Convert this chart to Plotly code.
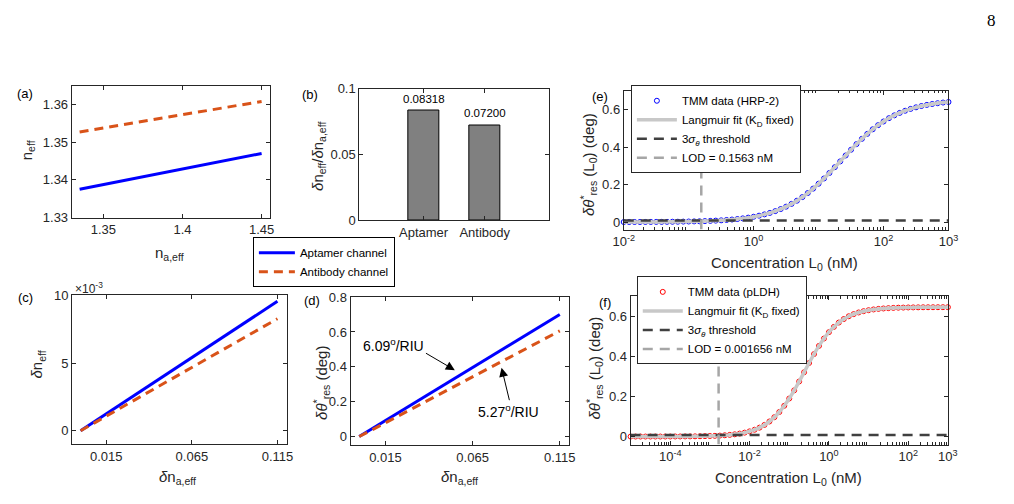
import plotly.graph_objects as go

W, H = 1014, 504

# ---------------- data ----------------
# (a) effective index vs analyte-layer index
na_eff = [1.335, 1.45]
neff_aptamer = [1.3375, 1.3470]
neff_antibody = [1.3527, 1.3608]

# (b) sensitivity bars
bar_cats = ["Aptamer", "Antibody"]
bar_vals = [0.08318, 0.07200]

# (c) delta n_eff vs delta n_a,eff
dna = [0.0, 0.115]
dneff_aptamer = [0.0, 0.00957]
dneff_antibody = [0.0, 0.00828]

# (d) delta theta vs delta n_a,eff
dtheta_aptamer = [0.0, 0.700]
dtheta_antibody = [0.0, 0.606]

# (e) HRP-2 TMM data (concentration nM, response deg)
conc_e = [0.01, 0.01212, 0.01468, 0.01778, 0.02154, 0.0261, 0.03162, 0.03831, 0.04642, 0.05623, 0.06813, 0.08254,
          0.1, 0.1212, 0.1468, 0.1778, 0.2154, 0.261, 0.3162, 0.3831, 0.4642, 0.5623, 0.6813, 0.8254,
          1.0, 1.212, 1.468, 1.778, 2.154, 2.61, 3.162, 3.831, 4.642, 5.623, 6.813, 8.254,
          10.0, 12.12, 14.68, 17.78, 21.54, 26.1, 31.62, 38.31, 46.42, 56.23, 68.13, 82.54,
          100.0, 121.2, 146.8, 177.8, 215.4, 261.0, 316.2, 383.1, 464.2, 562.3, 681.3, 825.4, 1000.0]
theta_e = [0.0003, 0.0004, 0.0004, 0.0005, 0.0006, 0.0008, 0.0009, 0.0011, 0.0014, 0.0017, 0.0020, 0.0025,
           0.0030, 0.0036, 0.0043, 0.0053, 0.0064, 0.0077, 0.0093, 0.0112, 0.0135, 0.0163, 0.0197, 0.0237,
           0.0285, 0.0342, 0.0410, 0.0490, 0.0584, 0.0695, 0.0823, 0.0971, 0.1141, 0.1333, 0.1549, 0.1787,
           0.2047, 0.2327, 0.2621, 0.2928, 0.3240, 0.3554, 0.3863, 0.4161, 0.4444, 0.4708, 0.4951, 0.5172,
           0.5369, 0.5544, 0.5696, 0.5829, 0.5943, 0.6041, 0.6124, 0.6194, 0.6254, 0.6303, 0.6345, 0.6380, 0.6409]
threshold_e = 0.008
lod_e = 0.1563

# (f) pLDH TMM data
conc_f = [1e-5, 1.334e-5, 1.778e-5, 2.371e-5, 3.162e-5, 4.217e-5, 5.623e-5, 7.499e-5,
          1e-4, 1.334e-4, 1.778e-4, 2.371e-4, 3.162e-4, 4.217e-4, 5.623e-4, 7.499e-4,
          1e-3, 1.334e-3, 1.778e-3, 2.371e-3, 3.162e-3, 4.217e-3, 5.623e-3, 7.499e-3,
          0.01, 0.01334, 0.01778, 0.02371, 0.03162, 0.04217, 0.05623, 0.07499,
          0.1, 0.1334, 0.1778, 0.2371, 0.3162, 0.4217, 0.5623, 0.7499,
          1.0, 1.334, 1.778, 2.371, 3.162, 4.217, 5.623, 7.499,
          10.0, 13.34, 17.78, 23.71, 31.62, 42.17, 56.23, 74.99,
          100.0, 133.4, 177.8, 237.1, 316.2, 421.7, 562.3, 749.9, 1000.0]
theta_f = [0.00003, 0.00004, 0.00005, 0.00006, 0.00008, 0.00011, 0.00015, 0.0002,
           0.00027, 0.00036, 0.00048, 0.00064, 0.00085, 0.00113, 0.00151, 0.00201,
           0.00268, 0.00357, 0.00474, 0.00631, 0.00839, 0.01114, 0.01477, 0.01954,
           0.0258, 0.0340, 0.0445, 0.0580, 0.0751, 0.0964, 0.1224, 0.1536,
           0.1897, 0.2304, 0.2745, 0.3205, 0.3667, 0.4111, 0.4521, 0.4886,
           0.5202, 0.5467, 0.5683, 0.5857, 0.5995, 0.6103, 0.6186, 0.6250,
           0.6299, 0.6336, 0.6364, 0.6385, 0.6401, 0.6414, 0.6423, 0.6429,
           0.6435, 0.6438, 0.6441, 0.6444, 0.6445, 0.6446, 0.6447, 0.6448, 0.6449]
threshold_f = 0.008
lod_f = 0.001656

# ---------------- styling helpers ----------------
FONT = "Liberation Sans, Arial, Helvetica, sans-serif"
AX = "#262626"
BLUE = "#0000FF"
ORANGE = "#D95319"


def px(x, y):
    return x / W, 1 - y / H


def dom(x0, x1, y0, y1):
    # pixel box -> paper domains
    return [x0 / W, x1 / W], [1 - y1 / H, 1 - y0 / H]


def axis(domain, rng, tickvals, ticktext=None, anchor=None, typ="linear", minor_vals=None):
    d = dict(domain=domain, range=rng, type=typ, tickmode="array", tickvals=tickvals,
             ticks="inside", ticklen=4, tickwidth=1, tickcolor=AX,
             showline=True, linecolor=AX, linewidth=1, mirror="ticks",
             showgrid=False, zeroline=False, anchor=anchor,
             tickfont=dict(family=FONT, size=13, color=AX))
    if ticktext is not None:
        d["ticktext"] = ticktext
    if minor_vals is not None:
        d["minor"] = dict(tickmode="array", tickvals=minor_vals, ticks="inside",
                          ticklen=2.5, tickcolor=AX, tickwidth=1, showgrid=False)
    return d


fig = go.Figure()

# (a)
fig.add_trace(go.Scatter(x=na_eff, y=neff_aptamer, mode="lines", name="Aptamer channel",
                         line=dict(color=BLUE, width=3), xaxis="x", yaxis="y", legend="legend"))
fig.add_trace(go.Scatter(x=na_eff, y=neff_antibody, mode="lines", name="Antibody channel",
                         line=dict(color=ORANGE, width=3, dash="9px,6px"), xaxis="x", yaxis="y",
                         legend="legend"))

# (b)
fig.add_trace(go.Bar(x=[1, 2], y=bar_vals, width=0.5, marker=dict(color="#808080",
                     line=dict(color="#000000", width=1)), showlegend=False,
                     xaxis="x2", yaxis="y2"))

# (c)
fig.add_trace(go.Scatter(x=dna, y=dneff_aptamer, mode="lines", line=dict(color=BLUE, width=3),
                         showlegend=False, xaxis="x3", yaxis="y3"))
fig.add_trace(go.Scatter(x=dna, y=dneff_antibody, mode="lines",
                         line=dict(color=ORANGE, width=3, dash="9px,6px"),
                         showlegend=False, xaxis="x3", yaxis="y3"))

# (d)
fig.add_trace(go.Scatter(x=dna, y=dtheta_aptamer, mode="lines", line=dict(color=BLUE, width=3),
                         showlegend=False, xaxis="x4", yaxis="y4"))
fig.add_trace(go.Scatter(x=dna, y=dtheta_antibody, mode="lines",
                         line=dict(color=ORANGE, width=3, dash="9px,6px"),
                         showlegend=False, xaxis="x4", yaxis="y4"))

# (e)
fig.add_trace(go.Scatter(x=conc_e, y=theta_e, mode="markers", name="TMM data (HRP-2)",
                         marker=dict(symbol="circle-open", color=BLUE, size=5, line=dict(width=1)),
                         cliponaxis=False, xaxis="x5", yaxis="y5", legend="legend2"))
fig.add_trace(go.Scatter(x=conc_e, y=theta_e, mode="lines", name="Langmuir fit (K<sub>D</sub> fixed)",
                         line=dict(color="#C8C8C8", width=3.5, shape="spline"),
                         xaxis="x5", yaxis="y5", legend="legend2"))
fig.add_trace(go.Scatter(x=[conc_e[0], conc_e[-1]], y=[threshold_e, threshold_e], mode="lines",
                         name="3<i>σ</i><sub><i>θ</i></sub> threshold",
                         line=dict(color="#404040", width=2.5, dash="10px,7px"),
                         xaxis="x5", yaxis="y5", legend="legend2"))
fig.add_trace(go.Scatter(x=[lod_e, lod_e], y=[-0.04, 0.7], mode="lines",
                         name="LOD = %.4f nM" % lod_e,
                         line=dict(color="#A6A6A6", width=2.5, dash="10px,7px"),
                         xaxis="x5", yaxis="y5", legend="legend2"))

# (f)
fig.add_trace(go.Scatter(x=conc_f, y=theta_f, mode="markers", name="TMM data (pLDH)",
                         marker=dict(symbol="circle-open", color="#FF0000", size=5, line=dict(width=1)),
                         cliponaxis=False, xaxis="x6", yaxis="y6", legend="legend3"))
fig.add_trace(go.Scatter(x=conc_f, y=theta_f, mode="lines", name="Langmuir fit (K<sub>D</sub> fixed)",
                         line=dict(color="#C8C8C8", width=3.5, shape="spline"),
                         xaxis="x6", yaxis="y6", legend="legend3"))
fig.add_trace(go.Scatter(x=[conc_f[0], conc_f[-1]], y=[threshold_f, threshold_f], mode="lines",
                         name="3<i>σ</i><sub><i>θ</i></sub> threshold",
                         line=dict(color="#404040", width=2.5, dash="10px,7px"),
                         xaxis="x6", yaxis="y6", legend="legend3"))
fig.add_trace(go.Scatter(x=[lod_f, lod_f], y=[-0.04, 0.7], mode="lines",
                         name="LOD = %.6f nM" % lod_f,
                         line=dict(color="#A6A6A6", width=2.5, dash="10px,7px"),
                         xaxis="x6", yaxis="y6", legend="legend3"))

# ---------------- axes ----------------
minor_e = [k * 10.0 ** d for d in range(-2, 3) for k in range(2, 10)]
minor_f = [k * 10.0 ** d for d in range(-5, 3) for k in range(2, 10)]

xa, ya = dom(62, 264, 81, 217)
xb, yb = dom(355.7, 549.3, 84, 220)
xc, yc = dom(62.3, 281.7, 297.3, 450.7)
xd, yd = dom(346.7, 569.3, 299, 451.7)
xe, ye = dom(625.7, 957.3, 86.5, 229.4)
xf, yf = dom(632.7, 956.7, 298, 451)

fig.update_layout(
    xaxis=axis(xa, [1.33, 1.455], [1.35, 1.4, 1.45], ["1.35", "1.4", "1.45"], anchor="y"),
    yaxis=axis(ya, [1.33, 1.365], [1.33, 1.34, 1.35, 1.36], ["1.33", "1.34", "1.35", "1.36"], anchor="x"),
    xaxis2=axis(xb, [-0.05, 3.05], [1, 2], bar_cats, anchor="y2"),
    yaxis2=axis(yb, [0, 0.1], [0, 0.05, 0.1], ["0", "0.05", "0.1"], anchor="x2"),
    xaxis3=axis(xc, [-0.005, 0.1205], [0.015, 0.065, 0.115], ["0.015", "0.065", "0.115"], anchor="y3"),
    yaxis3=axis(yc, [-0.001, 0.010], [0, 0.005, 0.01], ["0", "5", "10"], anchor="x3"),
    xaxis4=axis(xd, [-0.005, 0.12], [0.015, 0.065, 0.115], ["0.015", "0.065", "0.115"], anchor="y4"),
    yaxis4=axis(yd, [-0.05, 0.8], [0, 0.2, 0.4, 0.6, 0.8], ["0", "0.2", "0.4", "0.6", "0.8"], anchor="x4"),
    xaxis5=axis(xe, [-2, 3], [0.01, 1, 100, 1000],
                ["10<sup>-2</sup>", "10<sup>0</sup>", "10<sup>2</sup>", "10<sup>3</sup>"],
                anchor="y5", typ="log", minor_vals=minor_e),
    yaxis5=axis(ye, [-0.04, 0.7], [0, 0.2, 0.4, 0.6], ["0", "0.2", "0.4", "0.6"], anchor="x5"),
    xaxis6=axis(xf, [-5, 3], [1e-4, 1e-2, 1, 100, 1000],
                ["10<sup>-4</sup>", "10<sup>-2</sup>", "10<sup>0</sup>", "10<sup>2</sup>", "10<sup>3</sup>"],
                anchor="y6", typ="log", minor_vals=minor_f),
    yaxis6=axis(yf, [-0.04, 0.7], [0, 0.2, 0.4, 0.6], ["0", "0.2", "0.4", "0.6"], anchor="x6"),
)

# ---------------- legends ----------------
def legend(x, yc, border, iw):
    lx, ly = px(x, yc)
    return dict(x=lx, y=ly, xanchor="left", yanchor="middle", xref="paper", yref="paper",
                bgcolor="white", bordercolor=border, borderwidth=1,
                font=dict(family=FONT, size=11.5, color="#000000"),
                tracegroupgap=0, itemwidth=iw)

fig.update_layout(
    legend=legend(247, 263, "#000000", 36),
    legend2=legend(633, 126, AX, 40),
    legend3=legend(639, 323, AX, 40),
)

# ---------------- annotations ----------------
ann = []


def text(x, y, s, size=13, angle=0, xanchor="center", yanchor="middle", family=FONT, color=AX):
    lx, ly = px(x, y)
    ann.append(dict(x=lx, y=ly, xref="paper", yref="paper", text=s, showarrow=False,
                    textangle=angle, xanchor=xanchor, yanchor=yanchor,
                    font=dict(family=family, size=size, color=color)))


# panel labels
for lab, (x, y) in zip(["(a)", "(b)", "(c)", "(d)", "(e)", "(f)"],
                       [(14, 89), (305, 90), (15, 299), (307, 303), (601, 92), (607, 305)]):
    text(x, y, lab, size=13, color="#000000")

# axis titles
text(17, 148, "n<sub>eff</sub>", 15, -90)
text(162, 254, "n<sub>a,eff</sub>", 15)
text(314, 154, "<i>δ</i>n<sub>eff</sub>/<i>δ</i>n<sub>a,eff</sub>", 15, -90)
text(27, 368, "<i>δ</i>n<sub>eff</sub>", 15, -90)
text(170, 485, "<i>δ</i>n<sub>a,eff</sub>", 15)
text(317, 387, "<i>δθ</i><sup>*</sup><sub>res</sub> (deg)", 15, -90)
text(458, 485, "<i>δ</i>n<sub>a,eff</sub>", 15)
text(589, 162, "<i>δθ</i><sup>*</sup><sub>res</sub> (L<sub>0</sub>) (deg)", 15, -90)
text(790, 264, "Concentration L<sub>0</sub> (nM)", 15)
text(596, 372, "<i>δθ</i><sup>*</sup><sub>res</sub> (L<sub>0</sub>) (deg)", 15, -90)
text(794, 486, "Concentration L<sub>0</sub> (nM)", 15)

# exponent label for (c)
text(63, 290, "×10<sup>-3</sup>", 12, xanchor="left")

# page number
text(1001, 14, "8", 17, family="Liberation Serif", color="#000000")

# bar value labels
for i, v in enumerate(bar_vals):
    ann.append(dict(x=i + 1, y=v, xref="x2", yref="y2", text="%.5f" % v, showarrow=False,
                    yanchor="bottom", yshift=4, font=dict(family=FONT, size=11.5, color="#000000")))

# (d) slope annotations with arrows
ann.append(dict(x=0.0196, y=0.527, xref="x4", yref="y4", text="6.09<sup>o</sup>/RIU",
                showarrow=False, font=dict(family=FONT, size=14, color="#000000")))
ann.append(dict(x=0.0548, y=0.381, ax=0.0374, ay=0.483, xref="x4", yref="y4", axref="x4", ayref="y4",
                text="", showarrow=True, arrowhead=2, arrowsize=1.8, arrowwidth=1, arrowcolor="#000000",
                standoff=0, startstandoff=0))
ann.append(dict(x=0.0857, y=0.145, xref="x4", yref="y4", text="5.27<sup>o</sup>/RIU",
                showarrow=False, font=dict(family=FONT, size=14, color="#000000")))
ann.append(dict(x=0.0816, y=0.395, ax=0.0863, ay=0.200, xref="x4", yref="y4", axref="x4", ayref="y4",
                text="", showarrow=True, arrowhead=2, arrowsize=1.8, arrowwidth=1, arrowcolor="#000000",
                standoff=0, startstandoff=0))

fig.update_layout(
    annotations=ann,
    width=W, height=H, autosize=False,
    margin=dict(l=0, r=0, t=0, b=0),
    paper_bgcolor="white", plot_bgcolor="white",
    font=dict(family=FONT, color=AX),
    bargap=0,
)

fig.write_html("out.html")
